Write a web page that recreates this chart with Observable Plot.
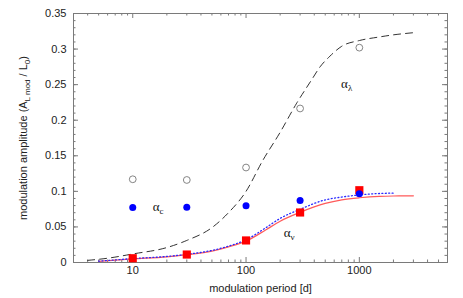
<!DOCTYPE html>
<html>
<head>
<meta charset="utf-8">
<script src="https://cdn.jsdelivr.net/npm/d3@7"></script>
<script src="https://cdn.jsdelivr.net/npm/@observablehq/plot@0.6"></script>
<style>
  html, body { margin: 0; padding: 0; background: #fff; }
  #chart svg { display: block; }
</style>
</head>
<body>
<div id="chart"></div>
<script>
// ---- data ----
const periods = [10, 30, 100, 300, 1000];
const alphaLambda = [0.117, 0.116, 0.1335, 0.2165, 0.302];   // open circles
const alphaC = [0.0773, 0.0775, 0.0796, 0.0872, 0.0965];      // blue dots
const alphaNu = [0.006, 0.0112, 0.031, 0.0703, 0.1016];       // red squares

const lambdaCurveX = [4, 6, 10, 20, 30, 50, 70, 100, 140, 200, 280, 380, 450, 550, 700, 1000, 1500, 2000, 3000];
const lambdaCurveY = [0.003, 0.006, 0.012, 0.021, 0.031, 0.049, 0.070, 0.100, 0.143, 0.183, 0.224, 0.257, 0.275, 0.290, 0.304, 0.312, 0.317, 0.320, 0.323];

const nuCurveX = [5, 10, 20, 30, 50, 70, 100, 150, 200, 300, 500, 700, 1000, 1500, 2000, 3000];
const nuCurveY = [0.0015, 0.005, 0.008, 0.011, 0.016, 0.022, 0.030, 0.046, 0.058, 0.0705, 0.083, 0.088, 0.091, 0.093, 0.0935, 0.0937];

const cCurveX = [5, 10, 20, 30, 50, 70, 100, 150, 200, 300, 500, 700, 1000, 1500, 2000];
const cCurveY = [0.0018, 0.0055, 0.0085, 0.0115, 0.017, 0.023, 0.032, 0.049, 0.062, 0.0748, 0.088, 0.092, 0.095, 0.097, 0.0975];

const xMajorTicks = [10, 100, 1000];
const xMajorLabels = ["10", "100", "1000"];
const xMinorTicks = [4, 5, 6, 7, 8, 9, 20, 30, 40, 50, 60, 70, 80, 90, 200, 300, 400, 500, 600, 700, 800, 900, 2000, 3000, 4000, 5000];
const yMajorTicks = [0, 0.05, 0.1, 0.15, 0.2, 0.25, 0.3, 0.35];
const yMajorLabels = ["0", "0.05", "0.1", "0.15", "0.2", "0.25", "0.3", "0.35"];
const yMinorTicks = d3.range(0, 0.3501, 0.01);

const curveLabels = [
  {base: "α", sub: "c", x: 15, y: 0.078},
  {base: "α", sub: "ν", x: 215, y: 0.042},
  {base: "α", sub: "λ", x: 690, y: 0.251}
];
const xTitle = "modulation period [d]";
const yTitleParts = [["modulation amplitude (A", false], ["L mod", true], [" / L", false], ["0", true], [")", false]];

// ---- layout ----
const W = 463, H = 298;
const mL = 73, mR = 16, mT = 13, mB = 36;
const pw = W - mL - mR, ph = H - mT - mB;
const frameColor = "#7a7a7a";
const textColor = "#222";

const pts = (xs, ys) => xs.map((x, i) => ({x, y: ys[i]}));

const chart = Plot.plot({
  width: W, height: H,
  marginLeft: mL, marginRight: mR, marginTop: mT, marginBottom: mB,
  style: {fontFamily: "Liberation Sans, Arial, sans-serif", fontSize: "11px", color: textColor, background: "#fff"},
  x: {type: "log", domain: [3, 6000], axis: null},
  y: {domain: [0, 0.35], axis: null},
  marks: [
    // tick marks (inward)
    Plot.tickX(xMajorTicks, {x: d => d, insetTop: ph - 5, stroke: frameColor}),
    Plot.tickX(xMajorTicks, {x: d => d, insetBottom: ph - 5, stroke: frameColor}),
    Plot.tickX(xMinorTicks, {x: d => d, insetTop: ph - 2.5, stroke: frameColor}),
    Plot.tickX(xMinorTicks, {x: d => d, insetBottom: ph - 2.5, stroke: frameColor}),
    Plot.tickY(yMajorTicks, {y: d => d, insetRight: pw - 5, stroke: frameColor}),
    Plot.tickY(yMajorTicks, {y: d => d, insetLeft: pw - 5, stroke: frameColor}),
    Plot.tickY(yMinorTicks, {y: d => d, insetRight: pw - 2.5, stroke: frameColor}),
    Plot.tickY(yMinorTicks, {y: d => d, insetLeft: pw - 2.5, stroke: frameColor}),
    Plot.frame({stroke: frameColor, strokeWidth: 1}),
    // tick labels
    Plot.text(xMajorTicks, {x: d => d, frameAnchor: "bottom", text: (d, i) => xMajorLabels[i], dy: 11, fontSize: 11, fill: textColor}),
    Plot.text(yMajorTicks, {y: d => d, frameAnchor: "left", text: (d, i) => yMajorLabels[i], dx: -7, textAnchor: "end", fontSize: 11, fill: textColor}),
    // curves
    Plot.line(pts(lambdaCurveX, lambdaCurveY), {x: "x", y: "y", stroke: "#333", strokeWidth: 1, strokeDasharray: "7,5", curve: "monotone-x"}),
    Plot.line(pts(nuCurveX, nuCurveY), {x: "x", y: "y", stroke: "#ff5a5a", strokeWidth: 1.2, curve: "monotone-x"}),
    Plot.line(pts(cCurveX, cCurveY), {x: "x", y: "y", stroke: "#2a2aff", strokeWidth: 1.3, strokeDasharray: "1,2.4", curve: "monotone-x"}),
    // points
    Plot.dot(pts(periods, alphaLambda), {x: "x", y: "y", r: 3.4, stroke: "#777", strokeWidth: 0.9, fill: "none"}),
    Plot.dot(pts(periods, alphaNu), {x: "x", y: "y", symbol: "square", r: 4.6, fill: "#ff0000", stroke: "none"}),
    Plot.dot(pts(periods, alphaC), {x: "x", y: "y", r: 3.5, fill: "#0000ff", stroke: "none"}),
    // curve labels
    Plot.text(curveLabels, {x: "x", y: "y", text: d => d.base + d.sub, fontFamily: "Liberation Serif, Times New Roman, serif", fontSize: 13, fill: "#111", textAnchor: "start"}),
    // axis titles
    Plot.text([xTitle], {frameAnchor: "bottom", text: d => d, dy: 29, fontSize: 11, fill: textColor}),
    Plot.text(["ytitle"], {frameAnchor: "left", text: d => d, rotate: -90, dx: -50, fontSize: 11, fill: textColor, textAnchor: "start"})
  ]
});

document.getElementById("chart").appendChild(chart);

// subscripts
const svg = d3.select(chart);
svg.selectAll("text").each(function() {
  const t = d3.select(this);
  const s = t.text();
  const lab = curveLabels.find(c => c.base + c.sub === s);
  if (lab) {
    t.text(null);
    t.append("tspan").text(lab.base);
    t.append("tspan").attr("dy", 3).attr("font-size", 9).text(lab.sub);
  } else if (s === "ytitle") {
    t.text(null);
    let shifted = false;
    for (const [str, isSub] of yTitleParts) {
      const sp = t.append("tspan").text(str);
      if (isSub && !shifted) { sp.attr("dy", 3).attr("font-size", 8); shifted = true; }
      else if (!isSub && shifted) { sp.attr("dy", -3); shifted = false; }
    }
    const len = this.getComputedTextLength();
    t.attr("text-anchor", "start").attr("x", -len / 2);
  }
});
</script>
</body>
</html>
